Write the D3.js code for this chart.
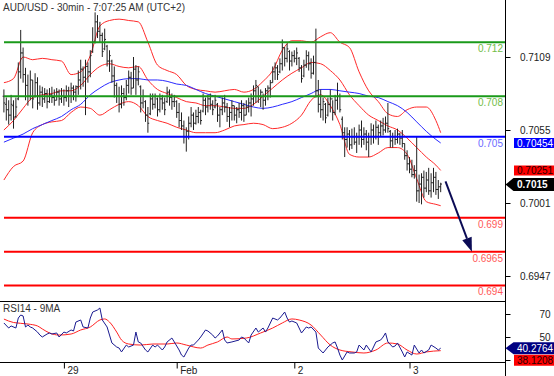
<!DOCTYPE html>
<html><head><meta charset="utf-8">
<script src="https://cdn.jsdelivr.net/npm/d3@7"></script>
<style>body{margin:0;background:#fff}svg{display:block;font-family:"Liberation Sans",Arial,sans-serif}</style>
</head><body><svg id="c" width="554" height="376"></svg>
<script>
const title = "AUD/USD - 30min - 7:07:25 AM (UTC+2)";
const rsiTitle = "RSI14 - 9MA";
const firstBar = 1;
const highP = [0.7085,0.7079,0.7077,0.7081,0.7077,0.7079,0.7105,0.7129,0.7116,0.7101,
0.7096,0.7099,0.7092,0.7097,0.7094,0.7088,0.7087,0.7086,0.7085,0.7086,
0.7087,0.7085,0.7086,0.7085,0.7086,0.7085,0.7088,0.7087,0.7090,0.7088,
0.7088,0.7099,0.7107,0.7102,0.7107,0.7105,0.7114,0.7131,0.7142,0.7140,
0.7135,0.7127,0.7130,0.7118,0.7114,0.7107,0.7102,0.7090,0.7087,0.7088,
0.7086,0.7092,0.7099,0.7098,0.7109,0.7103,0.7102,0.7088,0.7085,0.7077,
0.7072,0.7082,0.7082,0.7082,0.7079,0.7082,0.7081,0.7079,0.7087,0.7085,
0.7082,0.7081,0.7077,0.7075,0.7068,0.7062,0.7057,0.7065,0.7072,0.7068,
0.7070,0.7072,0.7070,0.7082,0.7079,0.7081,0.7082,0.7077,0.7081,0.7075,
0.7072,0.7079,0.7081,0.7075,0.7072,0.7077,0.7073,0.7072,0.7075,0.7077,
0.7075,0.7077,0.7079,0.7082,0.7088,0.7092,0.7087,0.7085,0.7082,0.7086,
0.7088,0.7092,0.7102,0.7105,0.7103,0.7108,0.7122,0.7116,0.7119,0.7114,
0.7113,0.7114,0.7116,0.7109,0.7103,0.7107,0.7114,0.7113,0.7108,0.7110,
0.7130,0.7092,0.7085,0.7079,0.7075,0.7079,0.7085,0.7077,0.7081,0.7090,
0.7082,0.7065,0.7057,0.7057,0.7055,0.7056,0.7057,0.7053,0.7059,0.7062,
0.7057,0.7055,0.7053,0.7060,0.7059,0.7062,0.7059,0.7062,0.7064,0.7065,
0.7075,0.7055,0.7053,0.7055,0.7056,0.7053,0.7055,0.7045,0.7040,0.7035,
0.7033,0.7029,0.7050,0.7022,0.7023,0.7025,0.7024,0.7027,0.7023,0.7027,
0.7024,0.7018,0.7016];
const lowP = [0.7068,0.7062,0.7059,0.7062,0.7056,0.7064,0.7077,0.7093,0.7090,0.7077,
0.7073,0.7077,0.7071,0.7079,0.7070,0.7073,0.7072,0.7075,0.7071,0.7075,
0.7075,0.7073,0.7077,0.7073,0.7075,0.7073,0.7076,0.7072,0.7075,0.7077,
0.7076,0.7081,0.7085,0.7087,0.7066,0.7090,0.7094,0.7112,0.7119,0.7123,
0.7120,0.7109,0.7114,0.7102,0.7098,0.7090,0.7079,0.7075,0.7068,0.7071,
0.7073,0.7077,0.7082,0.7081,0.7086,0.7081,0.7088,0.7068,0.7071,0.7061,
0.7053,0.7066,0.7070,0.7071,0.7065,0.7068,0.7070,0.7066,0.7075,0.7073,
0.7070,0.7072,0.7064,0.7057,0.7055,0.7045,0.7039,0.7048,0.7057,0.7055,
0.7059,0.7060,0.7059,0.7068,0.7066,0.7068,0.7070,0.7066,0.7071,0.7061,
0.7057,0.7066,0.7068,0.7061,0.7057,0.7062,0.7062,0.7060,0.7064,0.7062,
0.7061,0.7066,0.7068,0.7065,0.7073,0.7075,0.7075,0.7072,0.7070,0.7073,
0.7077,0.7079,0.7090,0.7092,0.7092,0.7097,0.7099,0.7102,0.7105,0.7099,
0.7102,0.7105,0.7103,0.7098,0.7090,0.7094,0.7101,0.7099,0.7093,0.7096,
0.7079,0.7068,0.7064,0.7062,0.7060,0.7065,0.7068,0.7062,0.7066,0.7070,
0.7068,0.7048,0.7035,0.7042,0.7040,0.7041,0.7044,0.7038,0.7044,0.7042,
0.7044,0.7040,0.7035,0.7044,0.7045,0.7048,0.7044,0.7050,0.7051,0.7053,
0.7053,0.7042,0.7042,0.7044,0.7045,0.7044,0.7042,0.7033,0.7025,0.7023,
0.7020,0.7019,0.7002,0.7001,0.7000,0.7005,0.7009,0.7007,0.7005,0.7009,
0.7007,0.7004,0.7009];
const openP = [0.7080,0.7074,0.7070,0.7066,0.7073,0.7065,0.7078,0.7098,0.7112,0.7096,
0.7088,0.7080,0.7092,0.7080,0.7090,0.7075,0.7083,0.7078,0.7082,0.7076,
0.7081,0.7079,0.7077,0.7083,0.7078,0.7080,0.7079,0.7084,0.7080,0.7086,
0.7083,0.7087,0.7092,0.7100,0.7094,0.7102,0.7098,0.7113,0.7120,0.7135,
0.7128,0.7125,0.7115,0.7117,0.7106,0.7106,0.7095,0.7088,0.7080,0.7074,
0.7082,0.7079,0.7088,0.7094,0.7086,0.7100,0.7092,0.7087,0.7075,0.7076,
0.7066,0.7067,0.7078,0.7074,0.7078,0.7070,0.7078,0.7075,0.7076,0.7083,
0.7079,0.7076,0.7076,0.7068,0.7062,0.7058,0.7050,0.7054,0.7060,0.7066,
0.7060,0.7065,0.7068,0.7069,0.7077,0.7072,0.7078,0.7074,0.7072,0.7074,
0.7066,0.7070,0.7075,0.7072,0.7065,0.7068,0.7073,0.7066,0.7070,0.7068,
0.7073,0.7066,0.7072,0.7075,0.7078,0.7084,0.7087,0.7080,0.7083,0.7077,
0.7084,0.7086,0.7090,0.7098,0.7101,0.7098,0.7104,0.7116,0.7108,0.7113,
0.7106,0.7110,0.7108,0.7108,0.7101,0.7095,0.7103,0.7110,0.7104,0.7097,
0.7105,0.7084,0.7074,0.7070,0.7074,0.7066,0.7074,0.7078,0.7068,0.7077,
0.7080,0.7063,0.7053,0.7048,0.7052,0.7044,0.7050,0.7046,0.7050,0.7055,
0.7048,0.7052,0.7046,0.7050,0.7055,0.7050,0.7057,0.7053,0.7058,0.7055,
0.7060,0.7054,0.7047,0.7050,0.7048,0.7052,0.7049,0.7045,0.7036,0.7030,
0.7026,0.7022,0.7025,0.7010,0.7015,0.7020,0.7012,0.7018,0.7010,0.7016,
0.7020,0.7011,0.7013];
const closeP = [0.7075,0.7070,0.7066,0.7074,0.7064,0.7072,0.7098,0.7112,0.7096,0.7088,
0.7080,0.7092,0.7078,0.7090,0.7075,0.7083,0.7078,0.7082,0.7076,0.7081,
0.7079,0.7077,0.7083,0.7078,0.7080,0.7079,0.7084,0.7080,0.7086,0.7083,
0.7087,0.7092,0.7100,0.7094,0.7102,0.7098,0.7110,0.7120,0.7135,0.7128,
0.7125,0.7113,0.7122,0.7106,0.7110,0.7095,0.7088,0.7080,0.7074,0.7082,
0.7079,0.7088,0.7094,0.7086,0.7100,0.7092,0.7098,0.7075,0.7080,0.7066,
0.7060,0.7078,0.7074,0.7080,0.7070,0.7078,0.7075,0.7070,0.7083,0.7079,
0.7076,0.7080,0.7068,0.7062,0.7058,0.7050,0.7054,0.7060,0.7066,0.7060,
0.7065,0.7068,0.7062,0.7077,0.7072,0.7078,0.7074,0.7070,0.7077,0.7066,
0.7070,0.7075,0.7072,0.7065,0.7068,0.7073,0.7066,0.7070,0.7068,0.7073,
0.7066,0.7072,0.7075,0.7078,0.7084,0.7088,0.7080,0.7083,0.7077,0.7084,
0.7086,0.7090,0.7098,0.7101,0.7096,0.7104,0.7116,0.7108,0.7115,0.7106,
0.7110,0.7108,0.7112,0.7101,0.7093,0.7103,0.7110,0.7104,0.7097,0.7105,
0.7084,0.7074,0.7070,0.7076,0.7064,0.7074,0.7078,0.7068,0.7077,0.7080,
0.7070,0.7053,0.7048,0.7052,0.7044,0.7050,0.7046,0.7050,0.7055,0.7048,
0.7052,0.7046,0.7050,0.7055,0.7050,0.7057,0.7053,0.7058,0.7055,0.7060,
0.7056,0.7047,0.7050,0.7048,0.7052,0.7049,0.7045,0.7036,0.7030,0.7026,
0.7022,0.7025,0.7010,0.7015,0.7020,0.7012,0.7018,0.7010,0.7016,0.7020,
0.7011,0.7013,0.7015];

const bandIdx = [1,5,9,13,17,21,25,29,33,37,41,45,49,53,57,61,65,69,73,77,81,85,89,93,97,101,105,109,113,117,121,125,129,133,137,141,145,149,153,157,161,165,169,173,177,181,183];
const upperBand = [0.7090,0.7093,0.7109,0.7107,0.7108,0.7107,0.7106,0.7096,0.7098,0.7110,0.7132,0.7136,0.7137,0.7136,0.7135,0.7120,0.7103,0.7099,0.7096,0.7088,0.7085,0.7084,0.7083,0.7084,0.7085,0.7083,0.7085,0.7091,0.7099,0.7114,0.7121,0.7121,0.7120,0.7124,0.7127,0.7120,0.7116,0.7098,0.7084,0.7076,0.7067,0.7065,0.7070,0.7072,0.7072,0.7062,0.7053];
const midBand = [0.7055,0.7062,0.7071,0.7079,0.7081,0.7082,0.7084,0.7084,0.7088,0.7096,0.7102,0.7104,0.7102,0.7101,0.7102,0.7092,0.7085,0.7082,0.7079,0.7076,0.7075,0.7073,0.7073,0.7072,0.7071,0.7071,0.7074,0.7080,0.7086,0.7092,0.7097,0.7101,0.7105,0.7104,0.7099,0.7092,0.7081,0.7073,0.7066,0.7062,0.7058,0.7055,0.7049,0.7042,0.7035,0.7029,0.70251];
const lowerBand = [0.7018,0.7028,0.7032,0.7053,0.7059,0.7061,0.7062,0.7068,0.7072,0.7071,0.7066,0.7070,0.7074,0.7076,0.7073,0.7065,0.7062,0.7060,0.7057,0.7055,0.7053,0.7053,0.7053,0.7055,0.7058,0.7059,0.7060,0.7059,0.7056,0.7057,0.7060,0.7066,0.7077,0.7081,0.7073,0.7059,0.7037,0.7035,0.7035,0.7038,0.7042,0.7042,0.7037,0.7019,0.7002,0.7000,0.6999];
const maLine = [0.7046,0.7049,0.7052,0.7056,0.7059,0.7062,0.7065,0.7070,0.7074,0.7081,0.7086,0.7090,0.7092,0.7093,0.7093,0.7092,0.7092,0.7091,0.7089,0.7088,0.7085,0.7082,0.7080,0.7078,0.7076,0.7074,0.7072,0.7071,0.7072,0.7074,0.7076,0.7079,0.7082,0.7085,0.7085,0.7084,0.7083,0.7082,0.7080,0.7079,0.7076,0.7073,0.7068,0.7061,0.7054,0.7048,0.70454];

const rsiIdx = [1,3,4,6,7,8,9,10,11,12,13,15,16,17,19,20,21,23,24,26,27,29,30,31,33,34,36,37,38,40,41,42,44,45,46,48,49,50,52,53,55,56,57,58,60,61,63,64,65,67,68,69,71,72,74,75,76,78,79,80,82,83,85,86,88,89,90,92,93,94,96,99,100,101,103,104,106,107,109,110,111,113,115,116,118,119,120,121,123,125,127,128,129,131,132,134,135,136,138,139,140,141,142,144,145,147,148,149,151,152,154,155,156,158,159,160,161,163,164,165,167,168,169,171,172,174,175,176,178,179,181,182,183];
const rsiVal = [62.2,57.8,59.6,57.8,66.5,69.1,68.3,58.7,60.4,58.7,57.8,54.3,51.7,50.0,52.6,53.5,52.6,53.5,50.0,54.3,53.5,56.1,55.2,63.0,64.8,58.7,57.8,66.5,71.7,73.5,75.2,64.8,58.7,51.7,44.8,41.3,40.4,37.0,43.0,41.3,43.0,54.3,45.7,44.8,38.7,37.0,43.0,41.3,43.0,38.7,41.3,45.7,49.1,45.7,38.7,34.3,32.6,40.4,43.0,43.0,47.4,50.0,56.1,55.2,51.7,49.1,50.9,56.1,47.4,44.8,45.7,47.4,50.0,49.1,44.8,51.7,57.8,54.3,57.8,54.3,57.8,66.5,64.8,66.5,71.7,66.5,63.0,63.9,62.2,53.5,58.7,57.8,58.7,54.3,40.4,36.1,38.7,41.3,44.8,45.7,40.4,34.3,30.0,37.0,36.1,36.1,37.0,43.0,38.7,43.0,37.0,41.3,45.7,47.4,50.0,53.5,45.7,41.3,42.2,44.8,37.0,32.6,37.0,34.3,43.0,36.1,38.7,36.1,38.7,43.0,40.4,38.7,40.2764];
const rsiMaIdx = [1,5,11,15,17,20,24,29,33,37,41,43,45,48,50,53,58,63,69,73,77,83,86,90,94,96,102,108,113,117,121,124,129,133,137,141,146,151,156,161,165,169,173,177,183];
const rsiMaVal = [65.6,62.6,61.3,59.6,57.0,53.5,51.7,52.6,56.1,58.7,64.8,65.7,63.0,54.3,47.4,43.9,43.0,43.9,43.9,44.8,43.0,40.4,43.0,45.7,50.0,48.3,49.1,53.5,57.8,62.2,65.7,64.8,60.4,51.7,43.0,38.7,37.0,36.1,38.7,44.8,43.9,38.7,35.2,37.0,38.1208];

const levelValues = [0.712, 0.708, 0.705, 0.699, 0.6965, 0.694];
const levelLabels = ["0.712", "0.708", "0.705", "0.699", "0.6965", "0.694"];
const levelKinds = ["res", "res", "pivot", "sup", "sup", "sup"];
const priceTicks = [0.7109, 0.7055, 0.7001, 0.6947];
const rsiTicks = [70, 50, 30];
const rsiTickLabels = ["70", "50", ""];
const dayTickIdx = [26, 73, 122, 170];
const dayLabels = ["29", "Feb", "2", "3"];
const lastPrice = 0.7015, lastMa = 0.70454, lastMid = 0.70251;
const lastRsi = 40.2764, lastRsiMa = 38.1208;
const arrowFromIdx = 185, arrowFromPrice = 0.7017, arrowToIdx = 196, arrowToPrice = 0.6965;

const svg = d3.select("#c");
const x = d3.scaleLinear().domain([0, 200]).range([1.5, 481.5]);
const y = d3.scaleLinear().domain([0.6947, 0.7109]).range([276, 57]);
const yr = d3.scaleLinear().domain([50, 70]).range([337, 314]);
const axisX = 505.5;
const kindColor = {res: "#1a9a1a", pivot: "#0000ff", sup: "#ff0000"};
const kindText = {res: "#72bd48", pivot: "#6a6aff", sup: "#ff5a5a"};

// title
svg.append("text").attr("x", 3).attr("y", 11).attr("font-size", 10).attr("fill", "#333").text(title);

// bands
const bandLine = arr => d3.line().x((d, k) => x(bandIdx[k])).y(d => y(d)).curve(d3.curveMonotoneX)(arr);
[upperBand, midBand, lowerBand].forEach(arr => {
  svg.append("path").attr("d", bandLine(arr)).attr("fill", "none").attr("stroke", "#ff2a2a").attr("stroke-width", 1);
});
svg.append("path").attr("d", bandLine(maLine)).attr("fill", "none").attr("stroke", "#2a2aff").attr("stroke-width", 1);

// bars
const bars = openP.map((o, k) => ({i: firstBar + k, o, h: highP[k], l: lowP[k], c: closeP[k]}));
svg.append("g").selectAll("path").data(bars).join("path")
  .attr("d", d => { const X = x(d.i); return `M${X},${y(d.h)}V${y(d.l)}M${X - 1.3},${y(d.o)}H${X}M${X},${y(d.c)}H${X + 1.3}`; })
  .attr("fill", "none").attr("stroke", "#222").attr("stroke-width", 1);

// levels
levelValues.forEach((v, k) => {
  svg.append("line").attr("x1", 4).attr("x2", axisX).attr("y1", y(v)).attr("y2", y(v))
    .attr("stroke", kindColor[levelKinds[k]]).attr("stroke-width", 2);
  svg.append("text").attr("x", 503).attr("y", y(v) + 10).attr("text-anchor", "end").attr("font-size", 10)
    .attr("fill", kindText[levelKinds[k]]).text(levelLabels[k]);
});

// arrow
{
  const x1 = x(arrowFromIdx), y1 = y(arrowFromPrice), x2 = x(arrowToIdx), y2 = y(arrowToPrice);
  const ang = Math.atan2(y2 - y1, x2 - x1), L = 14, W = 5;
  const bx = x2 - L * Math.cos(ang), by = y2 - L * Math.sin(ang);
  svg.append("line").attr("x1", x1).attr("y1", y1).attr("x2", bx).attr("y2", by).attr("stroke", "#0b0b55").attr("stroke-width", 2);
  svg.append("path").attr("d", `M${x2},${y2}L${bx + W * Math.sin(ang)},${by - W * Math.cos(ang)}L${bx - W * Math.sin(ang)},${by + W * Math.cos(ang)}Z`).attr("fill", "#0b0b55");
}

// panel frame
svg.append("line").attr("x1", 0).attr("x2", axisX).attr("y1", 301.5).attr("y2", 301.5).attr("stroke", "#000");
svg.append("line").attr("x1", 0).attr("x2", axisX).attr("y1", 362.5).attr("y2", 362.5).attr("stroke", "#000");
svg.append("line").attr("x1", axisX).attr("x2", axisX).attr("y1", 0).attr("y2", 376).attr("stroke", "#000");

// price axis
const pa = svg.append("g").attr("transform", `translate(${axisX},0)`)
  .call(d3.axisRight(y).tickValues(priceTicks).tickSize(5).tickFormat(d3.format(".4f")));
pa.select(".domain").remove();
pa.selectAll("text").attr("x", 45).attr("text-anchor", "end").attr("font-size", 10).attr("fill", "#222").attr("font-family", null);

// rsi axis
const ra = svg.append("g").attr("transform", `translate(${axisX},0)`)
  .call(d3.axisRight(yr).tickValues(rsiTicks).tickSize(5).tickFormat((d, k) => rsiTickLabels[k]));
ra.select(".domain").remove();
ra.selectAll("text").attr("x", 45).attr("text-anchor", "end").attr("font-size", 10).attr("fill", "#222").attr("font-family", null);

// day axis
const da = svg.append("g").attr("transform", "translate(0,362.5)")
  .call(d3.axisBottom(x).tickValues(dayTickIdx).tickSize(6).tickFormat((d, k) => dayLabels[k]));
da.select(".domain").remove();
da.selectAll("text").attr("x", 3).attr("y", 4).attr("text-anchor", "start").attr("font-size", 10).attr("fill", "#222").attr("font-family", null);

// rsi lines
svg.append("text").attr("x", 3).attr("y", 312).attr("font-size", 10).attr("fill", "#333").text(rsiTitle);
svg.append("path").attr("d", d3.line().x((d, k) => x(rsiMaIdx[k])).y(d => yr(d)).curve(d3.curveMonotoneX)(rsiMaVal))
  .attr("fill", "none").attr("stroke", "#ff2020").attr("stroke-width", 1);
svg.append("path").attr("d", d3.line().x((d, k) => x(rsiIdx[k])).y(d => yr(d))(rsiVal))
  .attr("fill", "none").attr("stroke", "#1a1a90").attr("stroke-width", 1);

// value labels on the right
function flag(yc, txt, bg, fg, pointer, bold, h) {
  const t = yc - h / 2, b = yc + h / 2;
  const d = pointer ? `M${axisX},${yc}L${axisX + 8},${t}H554V${b}H${axisX + 8}Z` : `M514,${t}H554V${b}H514Z`;
  svg.append("path").attr("d", d).attr("fill", bg);
  svg.append("text").attr("x", 517).attr("y", yc + 3.6).attr("font-size", 10).attr("fill", fg)
    .attr("font-weight", bold ? "bold" : "normal").text(txt);
}
flag(y(lastMa), d3.format(".5f")(lastMa), "#0000ff", "#fff", false, false, 10);
flag(y(lastMid), d3.format(".5f")(lastMid), "#ff0000", "#2a0000", false, false, 10);
flag(y(lastPrice) + 0.5, d3.format(".4f")(lastPrice), "#000", "#fff", true, true, 13);
flag(yr(lastRsi), d3.format(".4f")(lastRsi), "#000080", "#fff", true, false, 12);
flag(Math.max(yr(lastRsiMa), yr(lastRsi) + 12), d3.format(".4f")(lastRsiMa), "#ff0000", "#2a0000", false, false, 11);
</script></body></html>
